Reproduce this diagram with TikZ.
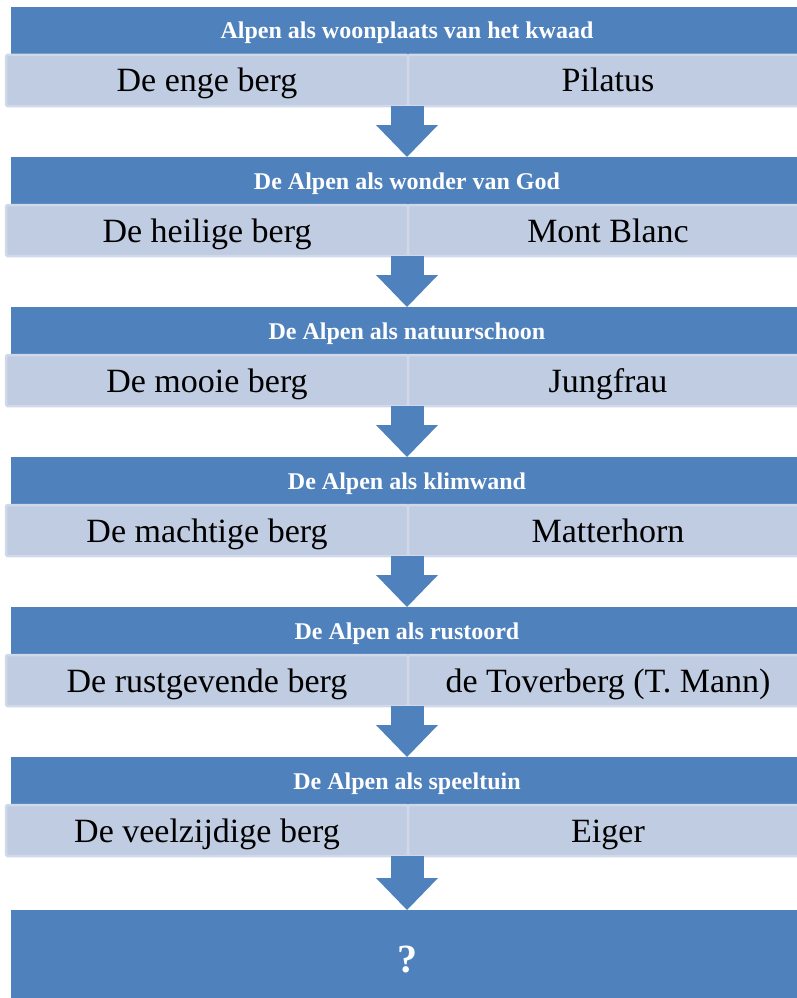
\documentclass[tikz,border=0pt]{standalone}
\usepackage{fontspec}
\setmainfont{Liberation Serif}
\usetikzlibrary{arrows.meta,positioning,calc}
\definecolor{hdblue}{HTML}{4F81BD}
\definecolor{cellfill}{HTML}{C0CCE1}
\definecolor{celledge}{HTML}{D0D9EA}

\begin{document}
\begin{tikzpicture}[
    x=1pt, y=-1pt,
    header/.style={fill=hdblue, rectangle, minimum width=792pt, minimum height=48pt, inner sep=0pt, outer sep=0pt, anchor=north west, text=white, text height=16pt, text depth=0pt, font=\fontsize{24}{28}\selectfont\bfseries},
    cell/.style={fill=cellfill, draw=celledge, line width=2.5pt, rectangle, rounded corners=1.5pt, minimum height=51pt, inner sep=0pt, outer sep=0pt, text height=23pt, text depth=0pt, font=\fontsize{34}{39}\selectfont},
    leftcell/.style={cell, minimum width=402pt, anchor=north west},
    rightcell/.style={cell, minimum width=400pt},
    flow/.style={draw=hdblue, line width=33pt, -{Triangle[width=62pt, length=32pt, line width=0pt]}}
  ]
    \clip (0,0) rectangle (797,998);
    \node[header] (h1) at (11,7) {Alpen als woonplaats van het kwaad};
    \node[leftcell] (l1) at (6,55) {De enge berg};
    \node[rightcell, right=0pt of l1] (r1) {Pilatus};
    \node[header] (h2) at (11,157) {De Alpen als wonder van God};
    \node[leftcell] (l2) at (6,205) {De heilige berg};
    \node[rightcell, right=0pt of l2] (r2) {Mont Blanc};
    \node[header] (h3) at (11,307) {De Alpen als natuurschoon};
    \node[leftcell] (l3) at (6,355) {De mooie berg};
    \node[rightcell, right=0pt of l3] (r3) {Jungfrau};
    \node[header] (h4) at (11,457) {De Alpen als klimwand};
    \node[leftcell] (l4) at (6,505) {De machtige berg};
    \node[rightcell, right=0pt of l4] (r4) {Matterhorn};
    \node[header] (h5) at (11,607) {De Alpen als rustoord};
    \node[leftcell] (l5) at (6,655) {De rustgevende berg};
    \node[rightcell, right=0pt of l5] (r5) {de Toverberg (T. Mann)};
    \node[header] (h6) at (11,757) {De Alpen als speeltuin};
    \node[leftcell] (l6) at (6,805) {De veelzijdige berg};
    \node[rightcell, right=0pt of l6] (r6) {Eiger};
    \node[header, minimum height=94pt, text height=30pt, font=\fontsize{40}{46}\selectfont\bfseries] (h7) at (11,910) {?};
    \draw[flow] (h1.south |- l1.south) -- (h2.north);
    \draw[flow] (h2.south |- l2.south) -- (h3.north);
    \draw[flow] (h3.south |- l3.south) -- (h4.north);
    \draw[flow] (h4.south |- l4.south) -- (h5.north);
    \draw[flow] (h5.south |- l5.south) -- (h6.north);
    \draw[flow] (h6.south |- l6.south) -- (h7.north);
  \end{tikzpicture}
\end{document}
